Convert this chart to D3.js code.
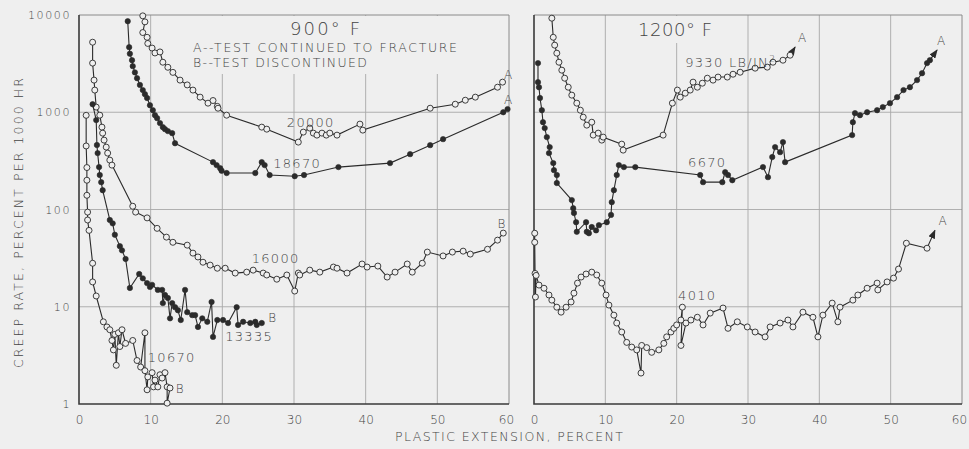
<!DOCTYPE html>
<html>
<head>
<meta charset="utf-8">
<script src="https://cdn.jsdelivr.net/npm/d3@7/dist/d3.min.js"></script>
<style>
  body { margin: 0; background: #efefef; }
  svg { display: block; }
  text { font-family: "DejaVu Sans", sans-serif; font-weight: 200; fill: #444; }
</style>
</head>
<body>
<div id="chart"></div>
<script>
// ---------------------------------------------------------------
// Data: creep rate (percent per 1000 hr) vs plastic extension (%)
// each series is a list of [extension, rate]
// ---------------------------------------------------------------
var xTicks = [0, 10, 20, 30, 40, 50, 60];
var yTicks = [1, 10, 100, 1000, 10000];

// 900 F
var s20000 = [[8.9,9800],[9.2,8500],[8.9,6600],[9.5,5900],[9.6,5100],[10.2,4570],[10.6,4070],[11.3,4170],[11.7,3270],[12.4,2900],[13.1,2570],[14.1,2140],[15.1,1910],[15.9,1690],[16.9,1430],[18.0,1240],[18.7,1320],[19.3,1150],[19.4,1100],[20.6,933],[25.5,703],[26.2,670],[30.6,493],[31.3,625],[32.2,687],[32.7,610],[33.2,582],[33.9,610],[34.5,582],[35.0,610],[36.0,582],[39.2,755],[39.6,655],[49.0,1100],[52.5,1210],[53.9,1330],[55.3,1430],[58.4,1810],[59.1,2040]];
var s18670 = [[6.8,8630],[7.0,4670],[7.1,4000],[7.4,3430],[7.5,2980],[7.8,2570],[8.1,2240],[8.5,1910],[8.9,1690],[9.2,1535],[9.5,1400],[9.9,1180],[10.3,1050],[10.6,933],[10.9,870],[11.3,773],[11.7,703],[12.0,670],[12.4,640],[13.0,610],[13.4,480],[18.7,307],[19.2,286],[19.7,266],[19.9,250],[20.6,237],[24.6,237],[25.5,307],[25.9,286],[26.6,226],[30.1,220],[31.4,226],[36.2,273],[43.4,300],[46.2,371],[49.0,459],[50.8,529],[59.2,1000],[59.8,1077]];
var s16000 = [[1.9,5250],[1.9,3200],[2.1,2140],[2.2,1690],[2.4,1130],[2.9,933],[3.2,703],[3.3,610],[3.5,517],[3.8,438],[4.0,380],[4.3,322],[4.6,286],[7.5,108],[7.9,94],[9.5,82],[10.9,64],[12.2,52],[13.1,46],[15.1,43],[15.9,35.6],[16.6,32.5],[17.3,28.7],[18.3,26.8],[19.3,24.9],[20.4,24.9],[21.8,22.2],[23.4,22.7],[24.3,23.8],[25.7,22.2],[26.2,21.2],[27.6,19.2],[29.0,21.2],[30.1,14.5],[30.6,22.2],[30.8,21.2],[32.2,23.8],[33.6,22.7],[35.5,25.6],[36.0,24.9],[37.4,22.2],[39.5,27.5],[40.2,25.6],[41.7,26.2],[43.0,20.2],[44.1,22.7],[45.8,27.5],[46.5,22.7],[47.9,28.0],[48.6,36.5],[50.8,33.3],[52.1,36.5],[53.6,37.3],[54.6,34.8],[57.0,39.0],[58.4,48.4],[59.2,57.2]];
var s13335 = [[1.9,1210],[2.4,830],[2.5,460],[2.6,380],[2.8,273],[2.9,226],[3.1,191],[3.3,158],[4.3,78],[4.7,72],[5.0,55],[5.7,42],[6.0,38],[6.5,31],[7.1,15.6],[8.4,21.7],[8.9,19.6],[9.5,17.5],[9.9,16],[10.2,16.8],[11.0,14.9],[11.6,14.9],[11.7,10.9],[12.0,13.2],[12.4,12.3],[12.7,7.6],[13.0,10.9],[13.4,9.9],[13.8,9.2],[14.2,7.3],[14.8,14.9],[15.1,8.8],[15.8,8.2],[16.2,8.2],[16.6,6.2],[17.2,7.6],[17.9,7.0],[18.5,11.2],[18.7,4.9],[19.3,7.3],[20.1,7.3],[20.8,6.8],[22.0,9.9],[22.2,6.5],[22.9,7.0],[23.9,6.8],[24.6,7.0],[24.8,6.5],[25.5,6.8]];
var s10670 = [[1.0,930],[1.0,450],[1.1,270],[1.1,200],[1.1,140],[1.2,94],[1.2,78],[1.4,61],[1.9,28],[1.9,18],[2.4,12.9],[3.4,7.0],[3.9,6.2],[4.3,5.8],[4.6,4.5],[4.8,3.6],[5.0,5.2],[5.2,2.5],[5.5,5.4],[5.7,3.9],[6.0,5.8],[6.5,4.2],[7.5,4.5],[8.1,2.8],[8.6,2.4],[9.2,5.4],[9.2,2.2],[9.5,1.4],[9.6,1.9],[10.2,2.1],[10.4,1.5],[10.6,1.76],[11.0,1.5],[11.3,2.0],[11.6,1.85],[12.0,2.1],[12.3,1.5],[12.3,1.02],[12.7,1.46]];

// 1200 F
var s9330 = [[2.5,9270],[2.7,5900],[2.9,4900],[3.2,4050],[3.5,3270],[3.9,2710],[4.3,2240],[4.8,1810],[5.3,1500],[6.0,1240],[6.5,1050],[6.9,890],[7.4,737],[8.1,790],[8.3,582],[9.0,610],[9.5,517],[9.7,555],[12.3,470],[12.5,408],[18.1,582],[19.4,1240],[20.1,1690],[20.5,1430],[21.2,1570],[21.9,1690],[22.3,2040],[22.9,1810],[23.6,1990],[24.3,2240],[25.1,2140],[25.8,2300],[27.1,2300],[27.9,2460],[28.9,2580],[31.0,2840],[32.7,2910],[33.5,3270],[34.9,3430],[35.9,3860],[36.6,4670]];
var s6670 = [[0.56,3200],[0.56,2040],[0.7,1810],[0.84,1400],[1.1,1050],[1.26,790],[1.5,687],[1.8,555],[2.2,438],[2.1,380],[2.7,300],[2.8,254],[3.2,226],[3.2,187],[5.3,125],[5.5,103],[5.6,92],[5.9,74],[6.0,59],[7.3,74],[7.4,59],[7.7,57],[8.1,66],[8.7,61],[9.1,69],[10.2,74],[10.8,88],[10.9,119],[11.2,158],[11.6,226],[11.9,286],[12.6,273],[14.2,273],[23.3,226],[23.7,191],[26.4,191],[26.8,242],[27.2,226],[27.8,200],[32.1,273],[32.8,215],[33.4,346],[33.8,438],[34.5,389],[34.9,493],[35.2,307],[44.6,582],[44.7,790],[45.0,979],[45.7,933],[46.7,1000],[48.1,1050],[48.9,1130],[49.9,1240],[50.9,1430],[51.8,1690],[52.7,1810],[53.7,2140],[54.4,2520],[55.1,3200],[55.5,3430],[56.5,4350]];
var s4010 = [[0.1,57],[0.1,46],[0.15,22],[0.2,12.6],[0.3,21],[0.7,16.7],[1.4,15.5],[2.1,13.2],[2.5,11.7],[3.2,9.9],[3.8,8.8],[4.5,9.9],[5.2,11.2],[5.6,13.8],[6.1,17.5],[6.6,20.2],[7.3,21.7],[8.1,22.7],[8.8,21.2],[9.5,17.5],[10.1,13.2],[10.5,10.4],[11.2,8.2],[11.6,6.8],[12.3,5.5],[13.0,4.3],[13.7,3.85],[14.4,3.6],[15.0,2.08],[15.1,4.0],[15.8,3.8],[16.5,3.4],[17.5,3.6],[18.2,4.2],[18.6,4.9],[19.2,5.5],[19.6,6.0],[20.0,6.5],[20.6,7.3],[20.8,9.9],[20.6,4.0],[21.3,6.8],[22.0,7.3],[22.9,7.8],[23.7,6.5],[24.7,8.6],[26.5,9.7],[27.2,6.0],[28.5,7.0],[29.9,6.2],[31.0,5.5],[32.4,4.9],[33.1,6.2],[34.5,6.8],[35.6,7.3],[36.3,6.2],[37.7,8.8],[39.1,7.8],[39.8,4.9],[40.5,8.2],[41.8,10.9],[42.6,7.0],[42.9,9.9],[44.7,11.7],[45.4,13.2],[46.7,15.5],[48.1,17.5],[48.2,14.9],[49.5,18.0],[50.4,19.7],[51.1,24.4],[52.2,45],[55.1,40],[56.2,61]];

// ---------------------------------------------------------------
// SVG + scales
// ---------------------------------------------------------------
var svgWidth = 969, svgHeight = 449;
var bg = "#efefef";
var ink = "#2b2b2b";

var svg = d3.select("#chart").append("svg")
    .attr("width", svgWidth)
    .attr("height", svgHeight);

svg.append("rect").attr("width", svgWidth).attr("height", svgHeight).attr("fill", bg);

svg.append("defs").append("marker")
    .attr("id", "arrow")
    .attr("markerUnits", "userSpaceOnUse")
    .attr("markerWidth", 9).attr("markerHeight", 7)
    .attr("refX", 8).attr("refY", 3.5)
    .attr("orient", "auto")
    .append("path")
    .attr("d", "M0,0 L9,3.5 L0,7 Z")
    .attr("fill", ink);

var yScale = d3.scaleLog().domain([1, 10000]).range([404, 15]);
var xLeft = d3.scaleLinear().domain([0, 60]).range([79, 509]);
var xRight = d3.scaleLinear().domain([0, 60]).range([534, 962]);

function drawFrame(x, showY) {
    var g = svg.append("g");
    var x0 = x.range()[0], x1 = x.range()[1];
    var y0 = yScale.range()[0], y1 = yScale.range()[1];

    // grid
    g.selectAll(".vg").data([10, 20, 30, 40, 50]).enter().append("line")
        .attr("x1", d => x(d)).attr("x2", d => x(d))
        .attr("y1", y0).attr("y2", y1)
        .attr("stroke", "#a8a8a8").attr("stroke-width", 0.9);
    g.selectAll(".hg").data([10, 100, 1000]).enter().append("line")
        .attr("x1", x0).attr("x2", x1)
        .attr("y1", d => yScale(d)).attr("y2", d => yScale(d))
        .attr("stroke", "#a8a8a8").attr("stroke-width", 0.9);

    // top/right border thin, left/bottom axis heavier
    g.append("path").attr("d", `M${x0},${y1}H${x1}V${y0}`)
        .attr("fill", "none").attr("stroke", "#8a8a8a").attr("stroke-width", 1);
    g.append("path").attr("d", `M${x0},${y1}V${y0}H${x1}`)
        .attr("fill", "none").attr("stroke", "#3a3a3a").attr("stroke-width", 1.6);

    // x tick labels
    var xAxis = d3.axisBottom(x).tickValues(xTicks).tickSize(0).tickPadding(11);
    var ax = svg.append("g").attr("transform", `translate(0,${y0})`).call(xAxis);
    ax.select(".domain").remove();
    ax.selectAll("text").attr("font-size", 12)
        .attr("fill", "#444").style("font-family", "DejaVu Sans").style("font-weight", 200)
        .attr("dx", d => d === 60 ? -3 : 0);

    if (showY) {
        var yAxis = d3.axisLeft(yScale).tickValues(yTicks).tickFormat(d3.format("d")).tickSize(0).tickPadding(8);
        var ay = svg.append("g").attr("transform", `translate(${x0},0)`).call(yAxis);
        ay.select(".domain").remove();
        ay.selectAll("text").attr("font-size", 11).style("letter-spacing", "1.6px")
            .attr("fill", "#444").style("font-family", "DejaVu Sans").style("font-weight", 200);
    }
    return g;
}

drawFrame(xLeft, true);
drawFrame(xRight, false);

// masks behind the headings (grid lines stop there)
svg.append("rect").attr("x", 186).attr("y", 16).attr("width", 282).attr("height", 58).attr("fill", bg);
svg.append("rect").attr("x", 632).attr("y", 16).attr("width", 86).attr("height", 27).attr("fill", bg);

// ---------------------------------------------------------------
// Curves
// ---------------------------------------------------------------
function drawSeries(x, data, filled, arrow) {
    var g = svg.append("g");
    var line = d3.line().x(d => x(d[0])).y(d => yScale(d[1]));
    g.append("path").datum(data)
        .attr("d", line)
        .attr("fill", "none")
        .attr("stroke", ink)
        .attr("stroke-width", 1.1)
        .attr("marker-end", arrow ? "url(#arrow)" : null);
    var pts = arrow ? data.slice(0, -1) : data;
    g.selectAll("circle").data(pts).enter().append("circle")
        .attr("cx", d => x(d[0]))
        .attr("cy", d => yScale(d[1]))
        .attr("r", filled ? 2.7 : 3)
        .attr("fill", filled ? ink : bg)
        .attr("stroke", ink)
        .attr("stroke-width", filled ? 0.6 : 0.9);
}

drawSeries(xLeft, s20000, false, false);
drawSeries(xLeft, s18670, true, false);
drawSeries(xLeft, s16000, false, false);
drawSeries(xLeft, s13335, true, false);
drawSeries(xLeft, s10670, false, false);

drawSeries(xRight, s9330, false, true);
drawSeries(xRight, s6670, true, true);
drawSeries(xRight, s4010, false, true);

// ---------------------------------------------------------------
// Labels
// ---------------------------------------------------------------
function label(x, xv, yv, txt, size) {
    return svg.append("text")
        .attr("x", x(xv)).attr("y", yScale(yv))
        .attr("font-size", size || 13)
        .style("letter-spacing", "1.3px")
        .text(txt);
}

label(xLeft, 29.0, 703, "20000");
label(xLeft, 27.1, 266, "18670");
label(xLeft, 24.1, 28.1, "16000");
label(xLeft, 20.4, 4.44, "13335");
label(xLeft, 9.6, 2.7, "10670");
label(xLeft, 59.3, 2190, "A", 12);
label(xLeft, 59.3, 1210, "A", 12);
label(xLeft, 58.4, 64, "B", 12);
label(xLeft, 26.4, 7.0, "B", 12);
label(xLeft, 13.5, 1.3, "B", 12);

var lb = label(xRight, 21.2, 2910, "9330 LB/IN");
lb.append("tspan").attr("dy", -5).attr("font-size", 9).text("2");
label(xRight, 21.6, 273, "6670");
label(xRight, 20.2, 11.7, "4010");
label(xRight, 37.0, 5260, "A", 12);
label(xRight, 56.5, 4900, "A", 12);
label(xRight, 56.7, 69, "A", 12);

// headings
svg.append("text").attr("x", 290).attr("y", 35).attr("font-size", 18)
    .attr("textLength", 70).attr("lengthAdjust", "spacing").text("900° F");
svg.append("text").attr("x", 638).attr("y", 36).attr("font-size", 18)
    .attr("textLength", 74).attr("lengthAdjust", "spacing").text("1200° F");
svg.append("text").attr("x", 193).attr("y", 52).attr("font-size", 12.5)
    .attr("textLength", 264).attr("lengthAdjust", "spacing").text("A--TEST CONTINUED TO FRACTURE");
svg.append("text").attr("x", 193).attr("y", 67).attr("font-size", 12.5)
    .attr("textLength", 174).attr("lengthAdjust", "spacing").text("B--TEST DISCONTINUED");

// axis titles
svg.append("text").attr("x", 395).attr("y", 441).attr("font-size", 12.5)
    .attr("textLength", 228).attr("lengthAdjust", "spacing").text("PLASTIC EXTENSION, PERCENT");
svg.append("text")
    .attr("transform", "translate(23,223) rotate(-90)")
    .attr("text-anchor", "middle").attr("font-size", 12.5)
    .attr("textLength", 290).attr("lengthAdjust", "spacing")
    .text("CREEP RATE, PERCENT PER 1000 HR");
</script>
</body>
</html>
